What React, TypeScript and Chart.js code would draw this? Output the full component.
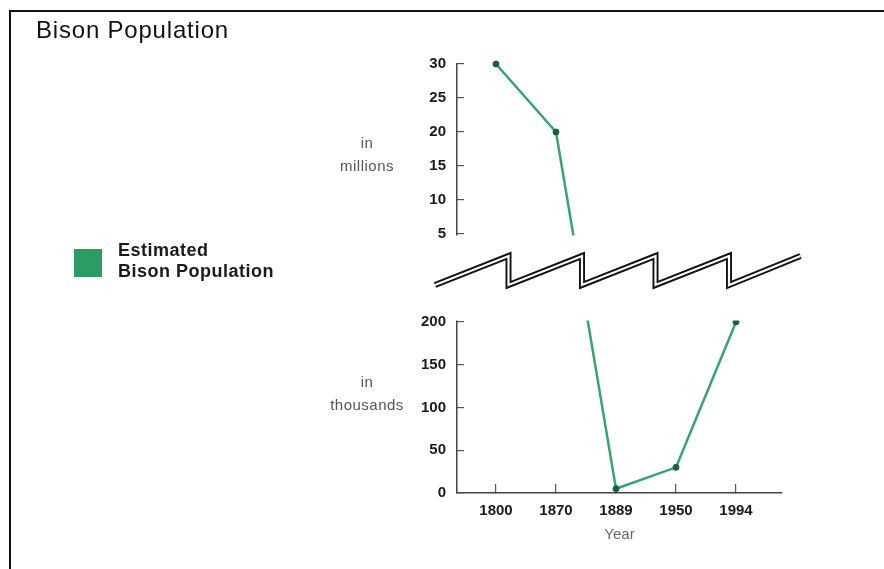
import React, { useEffect, useRef } from 'react';
import { Chart, registerables, LinearScale } from 'chart.js';

// ---- data ----
const years = ['1800', '1870', '1889', '1950', '1994'];
const bisonThousands = [30000, 20000, 5, 30, 200];
const thousandTicks = [0, 50, 100, 150, 200];
const millionTicks = [5, 10, 15, 20, 25, 30];

const LOWER_MAX = 200; // top of the "thousands" panel (in thousands)
const UPPER_MIN = 5000; // bottom of the "millions" panel (in thousands)
const UPPER_MAX = 30000;
const LOWER_FRAC = 0.3986;
const GAP_FRAC = 0.2051;

const yTickValues = [...thousandTicks, ...millionTicks.map((m) => m * 1000)];

class BrokenLinearScale extends LinearScale {
  static id = 'brokenLinear';
  static defaults = LinearScale.defaults;
  buildTicks() {
    return yTickValues.map((value) => ({ value }));
  }
  getPixelForValue(value: number) {
    if (value === null || value === undefined || isNaN(value)) return NaN;
    const self: any = this;
    const H = self.bottom - self.top;
    const lowerH = H * LOWER_FRAC;
    const gapH = H * GAP_FRAC;
    const upperH = H - lowerH - gapH;
    let off: number;
    if (value <= LOWER_MAX) off = (value / LOWER_MAX) * lowerH;
    else if (value >= UPPER_MIN) off = lowerH + gapH + ((value - UPPER_MIN) / (UPPER_MAX - UPPER_MIN)) * upperH;
    else off = lowerH + ((value - LOWER_MAX) / (UPPER_MIN - LOWER_MAX)) * gapH;
    return self.bottom - off;
  }
  getValueForPixel(pixel: number) {
    const self: any = this;
    const H = self.bottom - self.top;
    const lowerH = H * LOWER_FRAC;
    const gapH = H * GAP_FRAC;
    const upperH = H - lowerH - gapH;
    const off = self.bottom - pixel;
    if (off <= lowerH) return (off / lowerH) * LOWER_MAX;
    if (off >= lowerH + gapH) return UPPER_MIN + ((off - lowerH - gapH) / upperH) * (UPPER_MAX - UPPER_MIN);
    return LOWER_MAX + ((off - lowerH) / gapH) * (UPPER_MIN - LOWER_MAX);
  }
}

Chart.register(...registerables, BrokenLinearScale as any);

const FONT = '"Liberation Sans", Arial, Helvetica, sans-serif';

const breakPlugin = {
  id: 'axisBreak',
  afterDatasetsDraw(chart: any) {
    const { ctx, chartArea, scales } = chart;
    const y = scales.y;
    const gapTop = y.getPixelForValue(UPPER_MIN);
    const gapBot = y.getPixelForValue(LOWER_MAX);
    ctx.save();
    // hide axis and line inside the break
    ctx.fillStyle = '#ffffff';
    ctx.fillRect(chartArea.left - 4, gapTop + 1.5, chartArea.right - chartArea.left + 40, gapBot - gapTop - 3);
    // zigzag break symbol
    const x0 = chartArea.left - 22;
    const P = 73.5;
    const yHi = gapTop + 22;
    const yLo = gapBot - 37;
    const pts: [number, number][] = [[x0, yLo]];
    for (let k = 1; k <= 4; k++) {
      pts.push([x0 + k * P, yHi]);
      pts.push([x0 + k * P, yLo]);
    }
    pts.push([x0 + 5 * P - 2, yHi]);
    const path = () => {
      ctx.beginPath();
      ctx.moveTo(pts[0][0], pts[0][1]);
      for (let i = 1; i < pts.length; i++) ctx.lineTo(pts[i][0], pts[i][1]);
    };
    ctx.lineJoin = 'miter';
    ctx.miterLimit = 10;
    ctx.lineCap = 'butt';
    path();
    ctx.strokeStyle = '#111';
    ctx.lineWidth = 6;
    ctx.stroke();
    path();
    ctx.strokeStyle = '#fff';
    ctx.lineWidth = 2.2;
    ctx.stroke();
    ctx.restore();
  },
};

export default function App() {
  const canvasRef = useRef<HTMLCanvasElement | null>(null);

  useEffect(() => {
    const canvas = canvasRef.current;
    if (!canvas) return;
    Chart.defaults.font.family = FONT;
    const chart = new Chart(canvas, {
      type: 'line',
      data: {
        labels: years,
        datasets: [
          {
            label: 'Estimated Bison Population',
            data: years.map((_, i) => ({ x: i, y: bisonThousands[i] })),
            borderColor: '#37a571',
            borderWidth: 2.5,
            pointRadius: 3,
            pointBackgroundColor: '#1f5f3f',
            pointBorderColor: '#1f5f3f',
            pointBorderWidth: 1,
            tension: 0,
            clip: false as any,
          },
        ],
      },
      options: {
        animation: false,
        responsive: false,
        events: [],
        layout: { padding: { left: 397, top: 64, right: 102, bottom: 21 } },
        plugins: { legend: { display: false }, tooltip: { enabled: false }, title: { display: false } },
        scales: {
          x: {
            type: 'linear',
            min: -0.65,
            max: 4.7667,
            afterFit: (s: any) => {
              s.height = 55;
            },
            afterBuildTicks: (s: any) => {
              s.ticks = s.ticks.filter((t: any) => Number.isInteger(t.value) && t.value >= 0 && t.value < years.length);
            },
            grid: { display: true, drawOnChartArea: false, drawTicks: true, tickLength: -9, color: '#555', lineWidth: 1.2 },
            border: { display: true, color: '#444', width: 1.5 },
            ticks: {
              stepSize: 1,
              includeBounds: false,
              autoSkip: false,
              maxRotation: 0,
              padding: 18,
              color: '#1a1a1a',
              font: { size: 15, weight: 'bold' },
              callback: (v: any) => years[v] ?? '',
            },
            title: { display: true, text: 'Year', color: '#666', font: { size: 15 }, padding: { top: 0, bottom: 4 } },
          },
          y: {
            type: 'brokenLinear' as any,
            min: 0,
            max: UPPER_MAX,
            afterFit: (s: any) => {
              s.width = 60;
            },
            grid: { display: true, drawOnChartArea: false, drawTicks: true, tickLength: -7, color: '#555', lineWidth: 1.2 },
            border: { display: true, color: '#444', width: 1.5 },
            ticks: {
              autoSkip: false,
              padding: 18,
              color: '#1a1a1a',
              font: { size: 15, weight: 'bold' },
              callback: (v: any) => (v >= 1000 ? String(v / 1000) : String(v)),
            },
          },
        },
      } as any,
      plugins: [breakPlugin],
    });
    return () => chart.destroy();
  }, []);

  const abs = (s: React.CSSProperties): React.CSSProperties => ({ position: 'absolute', fontFamily: FONT, margin: 0, ...s });

  return (
    <div style={{ position: 'fixed', left: 0, top: 0, width: 884, height: 569, background: '#fff', overflow: 'hidden' }}>
      <canvas ref={canvasRef} width={884} height={569} style={{ position: 'absolute', left: 0, top: 0, width: 884, height: 569 }} />
      <div style={{ position: 'absolute', left: 9, top: 10, width: 1000, height: 1000, borderLeft: '2px solid #111', borderTop: '2px solid #111', pointerEvents: 'none' }} />
      <div style={abs({ left: 36, top: 15, fontSize: 24, lineHeight: '29px', letterSpacing: '0.8px', color: '#111', whiteSpace: 'nowrap' })}>Bison Population</div>
      <div style={abs({ left: 74, top: 249, width: 28, height: 28, background: '#2a9d62' })} />
      <div style={abs({ left: 118, top: 240, fontSize: 18, fontWeight: 'bold', lineHeight: '21px', letterSpacing: '0.5px', color: '#1a1a1a', whiteSpace: 'nowrap' })}>
        Estimated
        <br />
        Bison Population
      </div>
      <div style={abs({ left: 297, top: 131, width: 140, textAlign: 'center', fontSize: 15, lineHeight: '23px', letterSpacing: '0.5px', color: '#555' })}>
        in
        <br />
        millions
      </div>
      <div style={abs({ left: 297, top: 370, width: 140, textAlign: 'center', fontSize: 15, lineHeight: '23px', letterSpacing: '0.5px', color: '#555' })}>
        in
        <br />
        thousands
      </div>
    </div>
  );
}
